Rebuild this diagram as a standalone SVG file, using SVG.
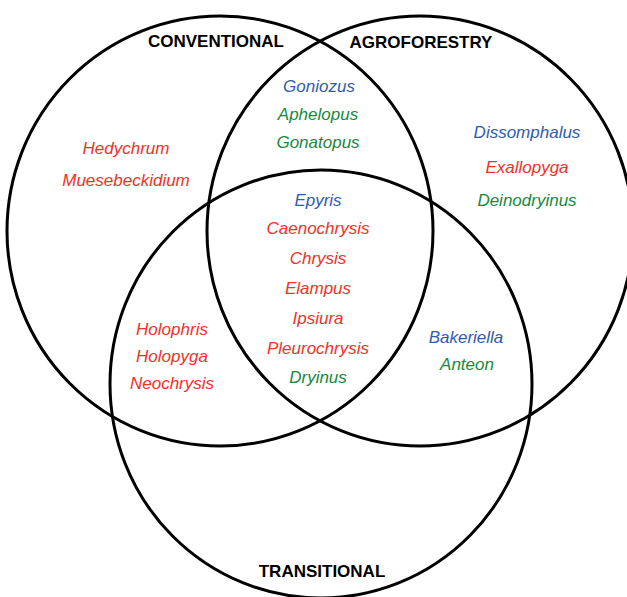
<svg xmlns="http://www.w3.org/2000/svg" width="627" height="597" viewBox="0 0 627 597">
<style>
.c{fill:none;stroke:#000;stroke-width:3}
.h{font-family:"Liberation Sans",Arial,sans-serif;font-weight:bold;font-size:17px;fill:#000;text-anchor:middle}
.t{font-family:"Liberation Sans",Arial,sans-serif;font-style:italic;font-size:17px;text-anchor:middle}
.b{fill:#2f5caf}
.r{fill:#f5302a}
.g{fill:#17893a}
</style>
<rect width="627" height="597" fill="#fff"/>
<g id="sets">
<g id="conventional">
<ellipse class="c" cx="220" cy="231" rx="213" ry="215"/>
<text class="h" x="216" y="47">CONVENTIONAL</text>
</g>
<g id="agroforestry">
<ellipse class="c" cx="420" cy="231" rx="213" ry="215"/>
<text class="h" x="421" y="48">AGROFORESTRY</text>
</g>
<g id="transitional">
<ellipse class="c" cx="321" cy="384" rx="211" ry="214"/>
<text class="h" x="322" y="577">TRANSITIONAL</text>
</g>
</g>
<g id="labels">
<g id="conv-only">
<text class="t r" x="126" y="154">Hedychrum</text>
<text class="t r" x="126" y="186">Muesebeckidium</text>
</g>
<g id="conv-agro">
<text class="t b" x="319" y="92">Goniozus</text>
<text class="t g" x="318" y="120">Aphelopus</text>
<text class="t g" x="318" y="148">Gonatopus</text>
</g>
<g id="agro-only">
<text class="t b" x="527" y="138">Dissomphalus</text>
<text class="t r" x="527" y="173">Exallopyga</text>
<text class="t g" x="527" y="206">Deinodryinus</text>
</g>
<g id="all-three">
<text class="t b" x="318" y="206">Epyris</text>
<text class="t r" x="318" y="234">Caenochrysis</text>
<text class="t r" x="318" y="264">Chrysis</text>
<text class="t r" x="318" y="294">Elampus</text>
<text class="t r" x="318" y="324">Ipsiura</text>
<text class="t r" x="318" y="354">Pleurochrysis</text>
<text class="t g" x="318" y="383">Dryinus</text>
</g>
<g id="conv-trans">
<text class="t r" x="172" y="335">Holophris</text>
<text class="t r" x="172" y="362">Holopyga</text>
<text class="t r" x="172" y="389">Neochrysis</text>
</g>
<g id="agro-trans">
<text class="t b" x="466" y="343">Bakeriella</text>
<text class="t g" x="467" y="370">Anteon</text>
</g>
</g>
</svg>
